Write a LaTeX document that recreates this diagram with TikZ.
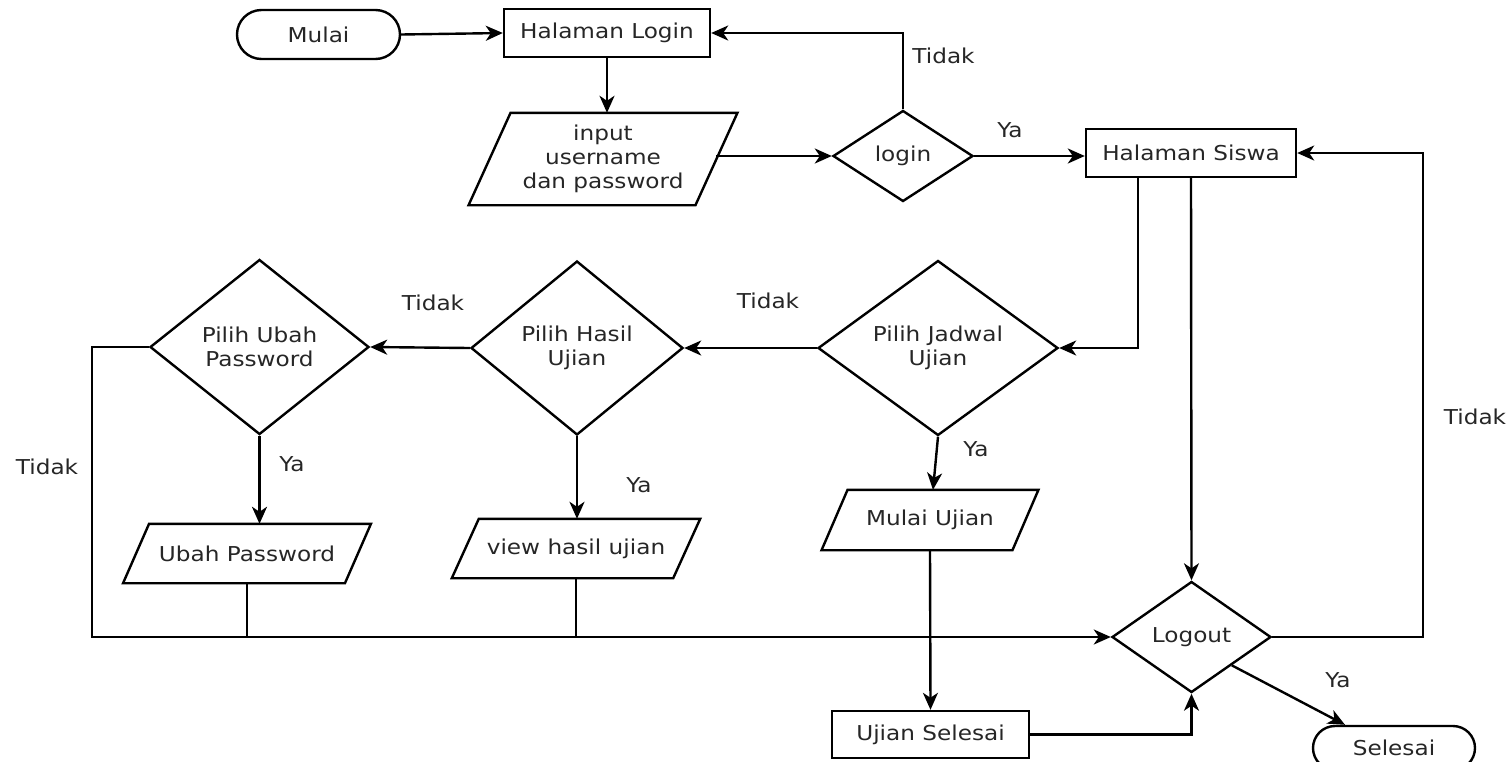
\documentclass[tikz,border=0pt]{standalone}
\usepackage{fontspec}
\setmainfont{DejaVu Sans}[FakeStretch=1.13]
\usetikzlibrary{shapes.geometric,shapes.misc,arrows.meta,calc}
\newcommand{\drawpara}[2]{\draw[ln] ([xshift=#2]#1.north west) -- ([xshift=#2]#1.north east) -- ([xshift=-#2]#1.south east) -- ([xshift=-#2]#1.south west) -- cycle;}
\begin{document}
\begin{tikzpicture}[x=1pt,y=-1pt,
  every node/.style={font=\fontsize{20.5}{24}\selectfont, text=black!85, inner sep=0pt, align=center},
  ln/.style={line width=2.4pt, draw=black},
  arr/.style={ln, -{Stealth[length=17pt,width=15pt,inset=5pt]}},
  term/.style={draw=black, line width=2.4pt, rounded rectangle},
  dec/.style={draw=black, line width=2.4pt, diamond},
  proc/.style={draw=black, line width=2.4pt, rectangle},
  io/.style={rectangle}
]
\useasboundingbox (0,0) rectangle (1508,761);
\clip (0,0) rectangle (1508,761);

\node[term, minimum width=163pt, minimum height=49pt] (mulai) at (318.5,34.5) {Mulai};
\node[proc, minimum width=206pt, minimum height=48pt] (hlogin) at (607,33) {Halaman Login};
\node[io, minimum width=226.5pt, minimum height=92pt] (inp) at (603,159) {input\\username\\dan password};
\node[dec, minimum width=140pt, minimum height=91pt] (login) at (903,156) {login};
\node[proc, minimum width=210pt, minimum height=48pt] (hsiswa) at (1191,153) {Halaman Siswa};
\node[dec, minimum width=240pt, minimum height=175pt] (jadwal) at (938,348) {Pilih Jadwal\\Ujian};
\node[dec, minimum width=212pt, minimum height=174pt] (hasil) at (577,348) {Pilih Hasil\\Ujian};
\node[dec, minimum width=219pt, minimum height=175pt] (ubah) at (259.5,347) {Pilih Ubah\\Password};
\node[io, minimum width=221.5pt, minimum height=59pt] (ubahp) at (247,553.5) {Ubah Password};
\node[io, minimum width=221pt, minimum height=59pt] (view) at (576,548.5) {view hasil ujian};
\node[io, minimum width=190.5pt, minimum height=60pt] (mujian) at (930,520) {Mulai Ujian};
\node[proc, minimum width=197pt, minimum height=47pt] (uselesai) at (930.5,734.5) {Ujian Selesai};
\node[dec, minimum width=159pt, minimum height=111pt] (logout) at (1191.5,637) {Logout};
\node[term, minimum width=162pt, minimum height=44pt] (selesai) at (1394,748) {Selesai};

\drawpara{inp}{21pt}
\drawpara{ubahp}{13pt}
\drawpara{view}{13.5pt}
\drawpara{mujian}{13pt}

\coordinate (rt) at (1423,400);
\coordinate (lft) at (92,500);

\draw[arr] (mulai.east) -- (hlogin.west);
\draw[arr] (hlogin.south) -- (hlogin.south |- inp.north);
\draw[arr] (inp.east |- login.west) -- (login.west);
\draw[arr] (login.north) |- (hlogin.east);
\draw[arr] (login.east) -- (login.east -| hsiswa.west);
\draw[arr] ([xshift=-53pt]hsiswa.south) |- (jadwal.east);
\draw[arr] (hsiswa.south) -- (logout.north);
\draw[arr] (logout.east) -| (rt) |- (hsiswa.east);
\draw[arr] (jadwal.west) -- (hasil.east);
\draw[arr] (hasil.west) -- (ubah.east);
\draw[arr] (ubah.west) -| (lft) |- (logout.west);
\draw[arr] (ubah.south) -- (ubah.south |- ubahp.north);
\draw[arr] (hasil.south) -- (hasil.south |- view.north);
\draw[arr] (jadwal.south) -- ([xshift=3pt]mujian.north);
\draw[ln] (ubahp.south) -- (ubahp.south |- logout.west);
\draw[ln] (view.south) -- (view.south |- logout.west);
\draw[arr] (mujian.south) -- (uselesai.north);
\draw[arr] (uselesai.east) -| (logout.south);
\draw[arr] (logout.south east) -- ([xshift=-49pt]selesai.north);

\node (l1) at (943.5,56) {Tidak};
\node (l2) at (1010,130) {Ya};
\node (l3) at (768,301) {Tidak};
\node (l4) at (433,303) {Tidak};
\node (l5) at (47,467) {Tidak};
\node (l6) at (292,464) {Ya};
\node (l7) at (639,485) {Ya};
\node (l8) at (976,449) {Ya};
\node (l9) at (1475,417) {Tidak};
\node (l10) at (1338,680) {Ya};
\end{tikzpicture}
\end{document}
